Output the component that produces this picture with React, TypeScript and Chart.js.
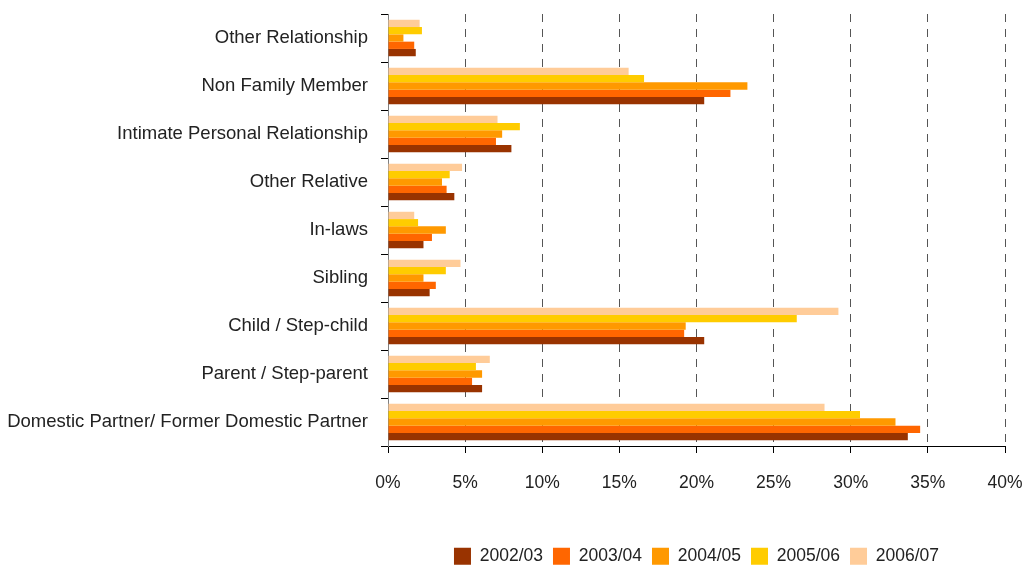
import React, { useEffect, useRef } from "react";
import { Chart, registerables } from "chart.js";

Chart.register(...registerables);

const categories = [
  "Other Relationship",
  "Non Family Member",
  "Intimate Personal Relationship",
  "Other Relative",
  "In-laws",
  "Sibling",
  "Child / Step-child",
  "Parent / Step-parent",
  "Domestic Partner/ Former Domestic Partner",
];

const seriesNames = ["2002/03", "2003/04", "2004/05", "2005/06", "2006/07"];
const seriesColors = ["#993300", "#FF6600", "#FF9900", "#FFCC00", "#FFCC99"];

const v2002 = [1.8, 20.5, 8.0, 4.3, 2.3, 2.7, 20.5, 6.1, 33.7];
const v2003 = [1.7, 22.2, 7.0, 3.8, 2.85, 3.1, 19.2, 5.45, 34.5];
const v2004 = [1.0, 23.3, 7.4, 3.5, 3.75, 2.3, 19.3, 6.1, 32.9];
const v2005 = [2.2, 16.6, 8.55, 4.0, 1.95, 3.75, 26.5, 5.7, 30.6];
const v2006 = [2.05, 15.6, 7.1, 4.8, 1.7, 4.7, 29.2, 6.6, 28.3];

const seriesValues = [v2002, v2003, v2004, v2005, v2006];
const xTicks = [0, 5, 10, 15, 20, 25, 30, 35, 40];

const FONT = "'Liberation Sans', Arial, sans-serif";

export default function App() {
  const ref = useRef<HTMLCanvasElement | null>(null);

  useEffect(() => {
    if (!ref.current) return;
    // dataset order reversed so 2006/07 sits on top in each group
    const datasets = seriesNames
      .map((name, i) => ({
        label: name,
        data: seriesValues[i],
        backgroundColor: seriesColors[i],
        borderWidth: 0,
        categoryPercentage: 0.76,
        barPercentage: 1.0,
      }))
      .reverse();

    const chart = new Chart(ref.current, {
      type: "bar",
      data: { labels: categories, datasets },
      options: {
        indexAxis: "y",
        animation: false,
        responsive: false,
        layout: { padding: { left: 0, top: 14, right: 18, bottom: -7 } },
        plugins: {
          tooltip: { enabled: false },
          legend: {
            position: "bottom",
            fullSize: false,
            reverse: true,
            labels: {
              boxWidth: 17,
              boxHeight: 17,
              padding: 10,
              color: "#222",
              font: { family: FONT, size: 17.5 },
            },
          },
        },
        scales: {
          x: {
            type: "linear",
            min: 0,
            max: 40,
            afterBuildTicks: (scale: any) => {
              scale.ticks = xTicks.map((v) => ({ value: v }));
            },
            afterFit: (scale: any) => {
              scale.height = 91.5;
              scale.paddingLeft = 0;
              scale.paddingRight = 0;
            },
            ticks: {
              callback: (v: any) => v + "%",
              color: "#222",
              padding: 20,
              font: { family: FONT, size: 17.5 },
              maxRotation: 0,
            },
            grid: {
              color: (ctx: any) => (ctx.index === 0 ? "rgba(0,0,0,0)" : "#555"),
              lineWidth: 1,
              tickColor: "#000",
              tickLength: 7,
              tickBorderDash: [],
            },
            border: { display: true, color: "#000", width: 1, dash: [8, 7] },
          },
          y: {
            type: "category",
            afterFit: (scale: any) => {
              scale.width = 388;
              scale.paddingTop = 0;
              scale.paddingBottom = 0;
            },
            ticks: {
              color: "#222",
              padding: 13,
              font: { family: FONT, size: 18.5 },
              autoSkip: false,
            },
            grid: {
              drawOnChartArea: false,
              offset: true,
              tickColor: "#000",
              tickLength: 7,
            },
            border: { display: true, color: "#808080", width: 1 },
          },
        },
      },
    });
    return () => chart.destroy();
  }, []);

  return (
    <div style={{ position: "fixed", left: 0, top: 0, width: 1023, height: 568, background: "#fff" }}>
      <canvas ref={ref} width={1023} height={568} style={{ display: "block" }} />
    </div>
  );
}
